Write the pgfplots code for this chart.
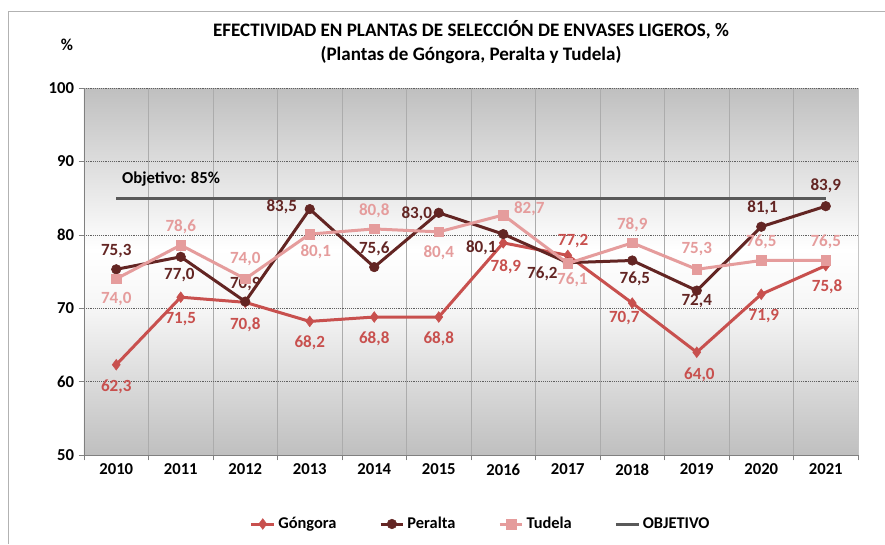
\documentclass[border=0pt]{standalone}
\usepackage{fontspec}
\setmainfont{Carlito}
\usepackage{pgfplots}
\pgfplotsset{compat=1.18}
\usepackage{pgfplotstable}

\definecolor{gong}{HTML}{C8504E}
\definecolor{peral}{HTML}{632523}
\definecolor{tud}{HTML}{E59C9C}
\definecolor{obj}{HTML}{595959}

\pgfdeclareverticalshading{bgshade}{100bp}{color(0bp)=(gray!50); color(25bp)=(gray!50); color(45bp)=(gray!7); color(53bp)=(white); color(75bp)=(gray!50); color(100bp)=(gray!50)}

\pgfplotsset{lbl/.style={
  every node near coord/.append style={font=\fontsize{12.8}{14}\selectfont\bfseries, anchor=center, xshift=\dx pt, yshift=\dy pt},
  nodes near coords={\pgfmathprintnumber[fixed, fixed zerofill, precision=1, use comma, assume math mode=true]{\pgfplotspointmeta}},
  visualization depends on={\thisrow{dx}\as\dx},
  visualization depends on={\thisrow{dy}\as\dy}}}

\pgfplotstableread{
x y dx dy
0 62.3 0 -16.5
1 71.5 0 -16.5
2 70.8 0 -16.5
3 68.2 0 -16
4 68.8 0 -16
5 68.8 0 -16
6 78.9 2 -18
7 77.2 4 10.5
8 70.7 -6 -11
9 64.0 2 -17
10 71.9 2 -16.5
11 75.8 1 -16
}\gongtab

\pgfplotstableread{
x y dx dy
0 75.3 0 14
1 77.0 -1 -13.5
2 70.9 0 13
3 83.5 -21 1.5
4 75.6 0 14
5 83.0 -16.5 -1
6 80.1 -16.5 -10.5
7 76.2 -19 -8
8 76.5 2 -13.5
9 72.4 0 -8
10 81.1 1 14
11 83.9 0 15
}\peraltab

\pgfplotstableread{
x y dx dy
0 74.0 0 -15
1 78.6 0 14
2 74.0 0 15
3 80.1 4.5 -13.5
4 80.8 0 13.5
5 80.4 0 -16
6 82.7 19.5 5
7 76.1 3.5 -12
8 78.9 0 13.5
9 75.3 0 15
10 76.5 0 14
11 76.5 0 14
}\tudtab

\begin{document}
\begin{tikzpicture}
\begin{axis}[
  at={(0,0)}, anchor=south west,
  scale only axis, width=580.5pt, height=275.25pt,
  xmin=-0.5, xmax=11.5, ymin=50, ymax=100,
  axis lines=left, axis line style={-, draw=gray},
  ytick={50,60,...,100},
  ymajorgrids, y grid style={densely dotted, gray!75!black},
  xtick={-0.5,0.5,...,11.5}, xticklabels={},
  xmajorgrids, x grid style={solid, gray!65},
  extra x ticks={0,1,...,11},
  extra x tick labels={2010,2011,2012,2013,2014,2015,2016,2017,2018,2019,2020,2021},
  extra x tick style={grid=none, major tick length=0pt, tick label style={yshift=-3pt}},
  tick align=outside, major tick length=4pt,
  tick style={gray, thin},
  tick label style={font=\fontsize{12.5}{14}\selectfont\bfseries, black},
  /pgf/number format/assume math mode=true,
  axis background/.style={shading=bgshade},
  legend columns=4,
  legend style={at={(0.513,-0.188)}, anchor=center, draw=none, fill=none,
    font=\fontsize{12.3}{14}\selectfont\bfseries,
    /tikz/every even column/.append style={column sep=30pt}},
  clip=false,
]
\addplot[color=gong, line width=2.25pt, mark=diamond*, mark size=4pt, mark options={line width=0.4pt, fill=gong}, lbl] table[x=x,y=y] {\gongtab};
\addlegendentry{Góngora}
\addplot[color=peral, line width=2.25pt, mark=*, mark size=3.6pt, mark options={line width=0.4pt, fill=peral}, lbl] table[x=x,y=y] {\peraltab};
\addlegendentry{Peralta}
\addplot[color=tud, line width=2.25pt, mark=square*, mark size=3.6pt, mark options={line width=0.4pt, fill=tud}, lbl] table[x=x,y=y] {\tudtab};
\addlegendentry{Tudela}
\addplot[color=obj, line width=2.25pt, no marks] coordinates {(0,85) (11,85)};
\addlegendentry{OBJETIVO}
\node[font=\fontsize{12.5}{14}\selectfont\bfseries, black] at (axis cs:0.85,87.6) {Objetivo: 85\%};
\end{axis}
\draw[gray!45] (580.5pt,0pt) -- (580.5pt,275.25pt);
\node[font=\fontsize{14.3}{16}\selectfont\bfseries] at (290.25pt,318.75pt) {EFECTIVIDAD EN PLANTAS DE SELECCIÓN DE ENVASES LIGEROS, \%};
\node[font=\fontsize{14.3}{16}\selectfont\bfseries] at (290.25pt,300pt) {(Plantas de Góngora, Peralta y Tudela)};
\node[font=\fontsize{12.5}{14}\selectfont\bfseries] at (-12.75pt,307.5pt) {\%};
\draw[gray!60, thin] (-57pt,-66.75pt) -- (-57pt,333pt) -- (600.75pt,333pt);
\pgfresetboundingbox
\useasboundingbox (-63pt,-66.75pt) rectangle (600.75pt,341.25pt);
\end{tikzpicture}
\end{document}
